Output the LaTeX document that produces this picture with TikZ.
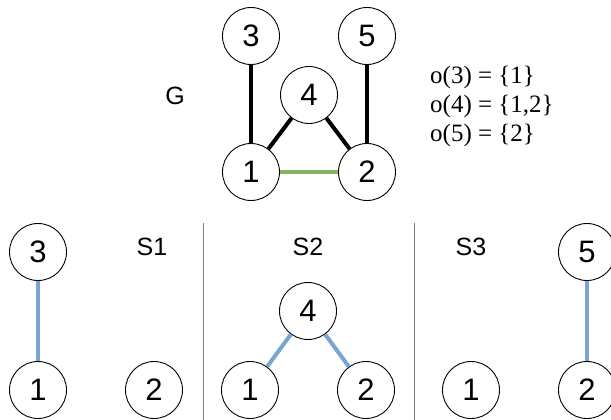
\documentclass[tikz,border=0pt]{standalone}
\usepackage{fontspec}
\setmainfont{Liberation Serif}
\newfontfamily\arialf{Liberation Sans}
\newfontfamily\timesf{Liberation Serif}
\begin{document}
\begin{tikzpicture}[x=1pt,y=-1pt,
  vert/.style={circle,draw,line width=0.9pt,minimum size=57pt,inner sep=0pt,font=\arialf\fontsize{31}{33}\selectfont},
  lab/.style={font=\arialf\fontsize{25}{27}\selectfont},
  oline/.style={anchor=base west,inner sep=0pt,font=\timesf\fontsize{25}{29}\selectfont},
  blk/.style={line width=4pt,black},
  grn/.style={line width=4pt,color={rgb,255:red,130;green,180;blue,100}},
  blu/.style={line width=4pt,color={rgb,255:red,120;green,165;blue,210}},
  sep/.style={line width=0.8pt,color=gray}]
\useasboundingbox (0,0) rectangle (611,420);
% top graph G
\node[vert] (t3) at (251,36) {3};
\node[vert] (t5) at (367,36) {5};
\node[vert] (t4) at (309,95) {4};
\node[vert] (t1) at (251,172) {1};
\node[vert] (t2) at (367,172) {2};
\draw[blk] (t3) -- (t1);
\draw[blk] (t5) -- (t2);
\draw[blk] (t4) -- (t1);
\draw[blk] (t4) -- (t2);
\draw[grn] (t1) -- (t2);
\node[lab] (G) at (175,96) {G};
\node[oline] (o3) at (430,84) {o(3) = \{1\}};
\node[oline] (o4) at (430,113) {o(4) = \{1,2\}};
\node[oline] (o5) at (430,142) {o(5) = \{2\}};
% separators
\coordinate (s1a) at (203,223);
\coordinate (s1b) at (203,420);
\coordinate (s2a) at (414,223);
\coordinate (s2b) at (414,420);
\draw[sep] (s1a) -- (s1b);
\draw[sep] (s2a) -- (s2b);
% S1
\node[vert] (a3) at (38,252) {3};
\node[vert] (a1) at (38,390) {1};
\node[vert] (a2) at (154,390) {2};
\node[lab] (S1) at (152,247) {S1};
\draw[blu] (a3) -- (a1);
% S2
\node[lab] (S2) at (308,247) {S2};
\node[vert] (b4) at (308,311) {4};
\node[vert] (b1) at (250,390) {1};
\node[vert] (b2) at (366,390) {2};
\draw[blu] (b4) -- (b1);
\draw[blu] (b4) -- (b2);
% S3
\node[lab] (S3) at (471,247) {S3};
\node[vert] (c1) at (471,390) {1};
\node[vert] (c5) at (587,252) {5};
\node[vert] (c2) at (587,390) {2};
\draw[blu] (c5) -- (c2);
\end{tikzpicture}
\end{document}
